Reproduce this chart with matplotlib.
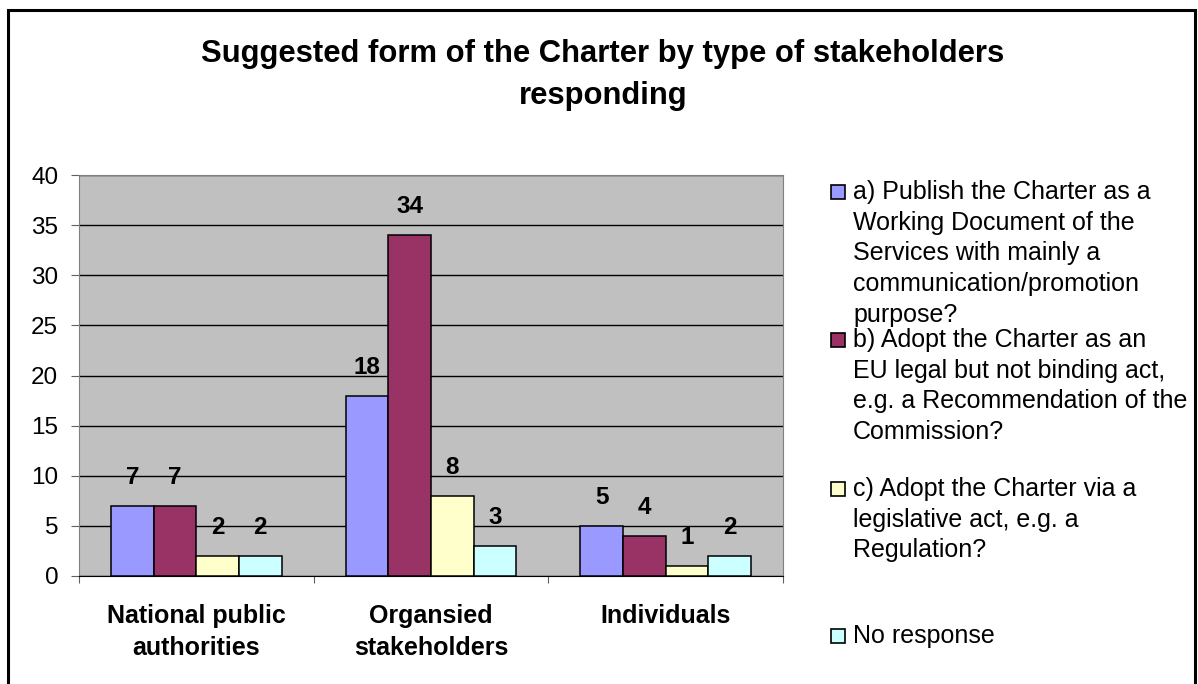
import numpy as np
import matplotlib
matplotlib.use('Agg')
import matplotlib.pyplot as plt
from matplotlib.patches import Rectangle

plt.rcParams['font.family'] = ['Liberation Sans', 'DejaVu Sans']

W, H = 1198, 684

categories = ['National public\nauthorities', 'Organsied\nstakeholders', 'Individuals']
series_labels = [
    'a) Publish the Charter as a\nWorking Document of the\nServices with mainly a\n'
    'communication/promotion\npurpose?',
    'b) Adopt the Charter as an\nEU legal but not binding act,\n'
    'e.g. a Recommendation of the\nCommission?',
    'c) Adopt the Charter via a\nlegislative act, e.g. a\nRegulation?',
    'No response',
]
publish_working_doc = [7, 18, 5]
adopt_recommendation = [7, 34, 4]
adopt_legislative = [2, 8, 1]
no_response = [2, 3, 2]
colors = ['#9999FF', '#993366', '#FFFFCC', '#CCFFFF']

series = [publish_working_doc, adopt_recommendation, adopt_legislative, no_response]


def fx(px):
    return px / W


def fy(py):
    return 1 - py / H


fig = plt.figure(figsize=(W / 100, H / 100), dpi=100)
ax = fig.add_axes([fx(79), fy(576), (783 - 79) / W, (576 - 175) / H])
ax.set_facecolor('#C0C0C0')

# clustered bars, Excel-style gap width of 150%
n = len(series)
width = 1 / (n + 1.5)
x = np.arange(len(categories))
for i, (vals, color) in enumerate(zip(series, colors)):
    offset = (i - (n - 1) / 2) * width
    bars = ax.bar(x + offset, vals, width, color=color, edgecolor='black',
                  linewidth=1.1, zorder=3)
    ax.bar_label(bars, padding=12, fontsize=17.5, fontweight='bold')

ax.set_xlim(-0.5, len(categories) - 0.5)
ax.set_ylim(0, 40)
ax.set_yticks(range(0, 41, 5))
ax.yaxis.grid(True, color='black', linewidth=1.0, zorder=0)
ax.set_axisbelow(True)
ax.tick_params(axis='y', labelsize=17.5, length=6, pad=9, color='#606060')

# tick marks between categories, labels under the category centres
ax.set_xticks(np.arange(-0.5, len(categories), 1.0))
ax.set_xticklabels([])
ax.set_xticks(x, minor=True)
ax.set_xticklabels(categories, minor=True, fontsize=18, fontweight='bold',
                   linespacing=1.45)
ax.tick_params(axis='x', which='major', length=5, color='#606060')
ax.tick_params(axis='x', which='minor', length=0, pad=20)

for side in ['top', 'right', 'left']:
    ax.spines[side].set_color('#808080')
ax.spines['bottom'].set_color('black')

fig.text(fx(603), fy(75), 'Suggested form of the Charter by type of stakeholders\nresponding',
         ha='center', va='center', fontsize=22.3, fontweight='bold', linespacing=1.55)

# hand-placed legend with fixed spacing between entries
legend_tops = [191, 339, 488, 635]
for label, color, y in zip(series_labels, colors, legend_tops):
    fig.add_artist(Rectangle((fx(831), fy(y + 8)), 14 / W, 14 / H,
                             transform=fig.transFigure, facecolor=color,
                             edgecolor='black', linewidth=1.2))
    fig.text(fx(853), fy(y - 11), label, ha='left', va='top', fontsize=18,
             linespacing=1.35)

# outer chart border (open at the bottom edge)
fig.add_artist(Rectangle((fx(8), -0.05), (1195 - 8) / W, fy(10) + 0.05,
                         transform=fig.transFigure, fill=False,
                         edgecolor='black', linewidth=2.2, clip_on=False))

fig.savefig('out.png', dpi=100)
